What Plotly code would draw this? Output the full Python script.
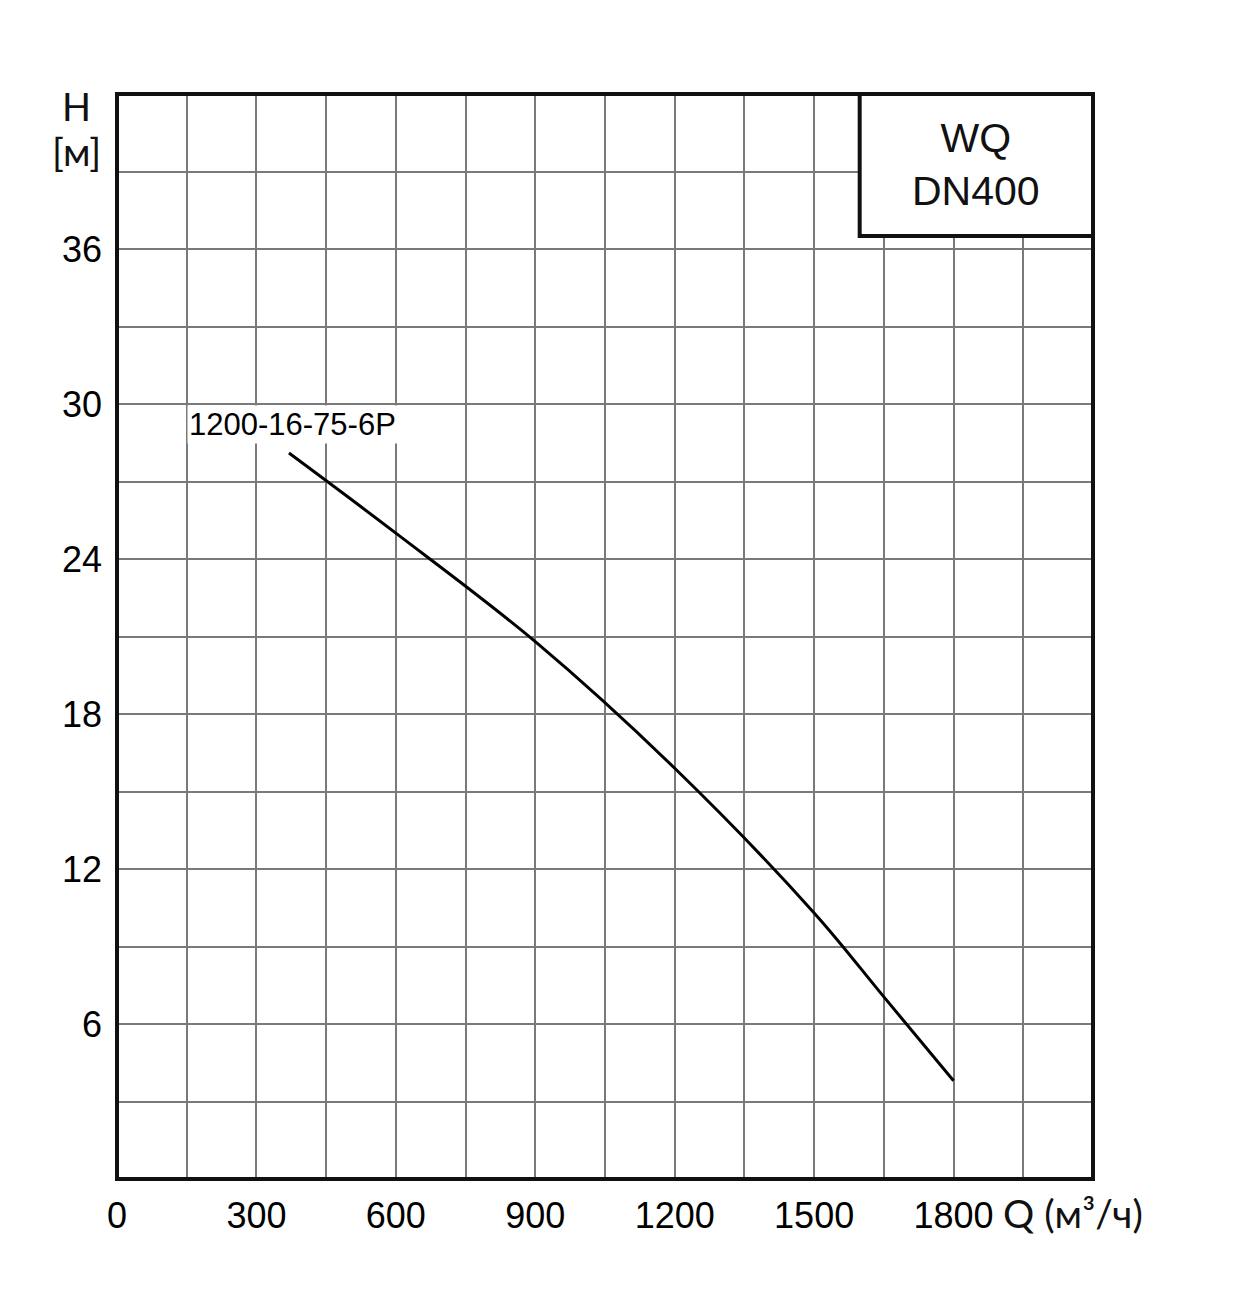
import plotly.graph_objects as go

# Data
flow_q = [370, 600, 900, 1200, 1500, 1650, 1800]
head_h = [28.1, 25.0, 20.8, 15.9, 10.3, 7.05, 3.8]
curve_name = "1200-16-75-6P"
x_ticks = [0, 300, 600, 900, 1200, 1500, 1800]
y_ticks = [6, 12, 18, 24, 30, 36]
model_lines = ["WQ", "DN400"]

TICK_FONT = "Liberation Sans, Arial, sans-serif"
LABEL_FONT = "Lato, DejaVu Sans, sans-serif"
GRID = "#7a7a7a"

W, H = 1240, 1299
ML, MR, MT, MB = 117, 147, 94, 120
pw, ph = W - ML - MR, H - MT - MB
def px(x): return (x - ML) / pw
def py(y): return (H - MB - y) / ph

fig = go.Figure()
fig.add_trace(go.Scatter(x=flow_q, y=head_h, mode="lines",
                         line=dict(color="black", width=3, shape="spline", smoothing=1.0),
                         showlegend=False, hoverinfo="skip"))

fig.update_xaxes(range=[0, 2100], tickvals=x_ticks, ticktext=[str(v) for v in x_ticks],
                 showgrid=True, gridcolor=GRID, gridwidth=2,
                 minor=dict(dtick=150, tick0=0, showgrid=True, gridcolor=GRID, gridwidth=2),
                 zeroline=False, showline=False, ticks="", ticklabelstandoff=12,
                 tickfont=dict(family=TICK_FONT, size=36, color="black"))
fig.update_yaxes(range=[0, 42], tickvals=y_ticks, ticktext=[str(v) for v in y_ticks],
                 showgrid=True, gridcolor=GRID, gridwidth=2,
                 minor=dict(dtick=3, tick0=0, showgrid=True, gridcolor=GRID, gridwidth=2),
                 zeroline=False, showline=False, ticks="", ticklabelstandoff=14,
                 tickfont=dict(family=TICK_FONT, size=36, color="black"))

# Frame
fig.add_shape(type="rect", xref="paper", yref="paper", x0=0, x1=1, y0=0, y1=1,
              line=dict(color="#111", width=4), layer="above")
# Model box
fig.add_shape(type="rect", xref="x", yref="y", x0=1598, x1=2100, y0=36.5, y1=42,
              line=dict(color="#111", width=4), fillcolor="white", layer="above")
fig.add_annotation(xref="paper", yref="paper", x=px(976), y=py(164),
                   xanchor="center", yanchor="middle",
                   text="<br>".join(model_lines), showarrow=False,
                   font=dict(family=TICK_FONT, size=41, color="#111"), align="center")

# Curve label
fig.add_annotation(xref="paper", yref="paper", x=px(292), y=py(424), text=curve_name,
                   xanchor="center", yanchor="middle",
                   showarrow=False, font=dict(family=TICK_FONT, size=31, color="black"),
                   bgcolor="white", borderpad=1)

# Axis titles
fig.add_annotation(text="H", showarrow=False, xref="paper", yref="paper",
                   x=px(76), y=py(106), xanchor="center", yanchor="middle",
                   font=dict(family=LABEL_FONT, size=38, color="#111"))
fig.add_annotation(text="[м]", showarrow=False, xref="paper", yref="paper",
                   x=px(76), y=py(151), xanchor="center", yanchor="middle",
                   font=dict(family=LABEL_FONT, size=39, color="#111"))
fig.add_annotation(text="Q (м³/ч)", showarrow=False, xref="paper", yref="paper",
                   x=px(1001), y=py(1213), xanchor="left", yanchor="middle",
                   font=dict(family=LABEL_FONT, size=39, color="#111"))

fig.update_layout(width=W, height=H, margin=dict(l=ML, r=MR, t=MT, b=MB),
                  paper_bgcolor="white", plot_bgcolor="white")

fig.write_html("out.html")
